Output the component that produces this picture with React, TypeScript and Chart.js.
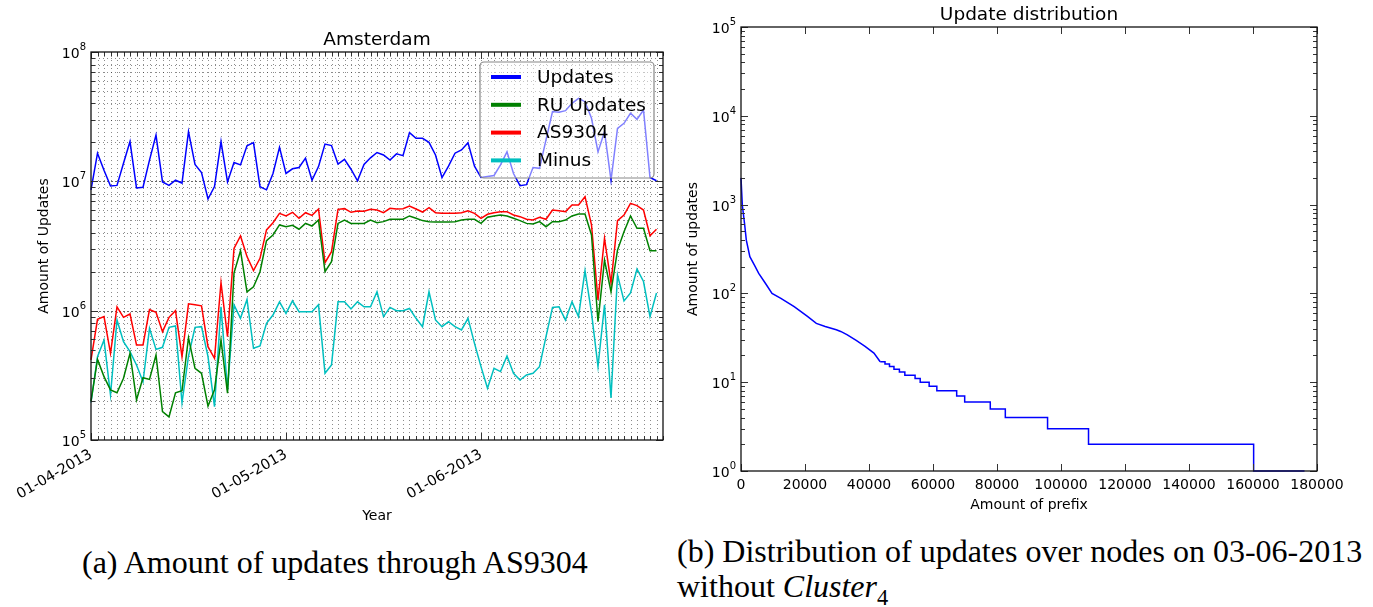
import React, { useEffect, useRef } from 'react';
import { Chart, registerables } from 'chart.js';

Chart.register(...registerables);

// ---------- Left chart: Amsterdam (daily values, day index 0..87) ----------
const dayCount = 88;
const dateTickIndex = [0, 30, 60];
const dateTickLabels = ['01-04-2013', '01-05-2013', '01-06-2013'];

const updates = [
  8.6e6, 1.65e7, 1.22e7, 9.2e6, 9.3e6, 1.38e7, 2.03e7, 8.9e6, 9.0e6, 1.46e7,
  2.28e7, 9.9e6, 9.3e6, 1.02e7, 9.7e6, 2.42e7, 1.35e7, 1.17e7, 7.3e6, 9.1e6,
  2.03e7, 9.9e6, 1.40e7, 1.34e7, 1.88e7, 1.99e7, 9.1e6, 8.6e6, 1.15e7, 1.83e7,
  1.15e7, 1.25e7, 1.28e7, 1.51e7, 1.02e7, 1.30e7, 1.94e7, 1.89e7, 1.36e7, 1.48e7,
  1.24e7, 1.01e7, 1.35e7, 1.52e7, 1.67e7, 1.60e7, 1.46e7, 1.63e7, 1.58e7, 2.38e7,
  2.15e7, 2.15e7, 2.00e7, 1.60e7, 1.07e7, 1.31e7, 1.65e7, 1.75e7, 1.99e7, 1.31e7,
  1.07e7, 1.09e7, 1.11e7, 1.34e7, 1.69e7, 1.15e7, 9.26e6, 9.42e6, 1.28e7, 1.26e7,
  2.09e7, 3.46e7, 3.42e7, 3.52e7, 4.01e7, 4.38e7, 4.13e7, 3.07e7, 1.69e7, 2.42e7,
  1.02e7, 2.57e7, 2.81e7, 3.36e7, 3.02e7, 3.56e7, 1.07e7, 1.01e7,
];
const ruUpdates = [
  2.0e5, 4.2e5, 3.09e5, 2.44e5, 2.32e5, 3.0e5, 4.68e5, 2.04e5, 3.03e5, 2.94e5,
  4.54e5, 1.66e5, 1.51e5, 2.32e5, 2.41e5, 6.18e5, 3.58e5, 3.28e5, 1.83e5, 2.44e5,
  5.93e5, 2.30e5, 1.95e6, 2.91e6, 1.40e6, 1.53e6, 2.0e6, 3.48e6, 3.85e6, 4.6e6,
  4.46e6, 4.57e6, 4.26e6, 4.73e6, 4.51e6, 5.02e6, 2.0e6, 2.39e6, 4.73e6, 5.02e6,
  4.73e6, 4.73e6, 4.73e6, 5.02e6, 4.79e6, 4.88e6, 5.09e6, 5.09e6, 5.09e6, 5.40e6,
  5.18e6, 4.97e6, 4.88e6, 4.85e6, 4.85e6, 4.85e6, 4.88e6, 5.02e6, 5.09e6, 5.09e6,
  4.73e6, 5.27e6, 5.40e6, 5.49e6, 5.40e6, 5.18e6, 4.97e6, 4.73e6, 4.68e6, 4.88e6,
  4.46e6, 4.88e6, 4.88e6, 5.02e6, 5.40e6, 5.59e6, 5.59e6, 3.85e6, 8.22e5, 2.46e6,
  1.40e6, 2.94e6, 4.08e6, 5.40e6, 4.33e6, 4.33e6, 2.91e6, 2.91e6,
];
const as9304 = [
  4.16e5, 8.57e5, 9.0e5, 4.68e5, 1.07e6, 8.88e5, 9.43e5, 5.43e5, 5.43e5, 1.02e6,
  9.71e5, 6.88e5, 8.88e5, 1.0e6, 4.41e5, 1.13e6, 1.11e6, 1.09e6, 5.27e5, 4.28e5,
  1.65e6, 6.29e5, 3.03e6, 3.78e6, 2.62e6, 2.04e6, 2.54e6, 4.21e6, 4.79e6, 5.66e6,
  5.40e6, 5.76e6, 5.18e6, 5.72e6, 5.46e6, 6.11e6, 2.35e6, 2.86e6, 6.07e6, 6.15e6,
  5.76e6, 5.90e6, 5.87e6, 6.07e6, 6.0e6, 5.72e6, 6.18e6, 6.11e6, 6.15e6, 6.45e6,
  6.11e6, 5.79e6, 6.25e6, 5.72e6, 5.66e6, 5.66e6, 5.66e6, 5.72e6, 5.93e6, 5.66e6,
  5.18e6, 5.56e6, 5.72e6, 5.83e6, 5.83e6, 5.49e6, 5.33e6, 5.09e6, 5.02e6, 5.27e6,
  5.09e6, 6.0e6, 5.93e6, 5.83e6, 6.56e6, 6.56e6, 7.61e6, 4.60e6, 1.21e6, 3.63e6,
  1.63e6, 4.97e6, 5.49e6, 6.76e6, 6.49e6, 6.0e6, 3.80e6, 4.26e6,
];
const minus = [
  1.95e5, 4.41e5, 5.93e5, 2.23e5, 8.47e5, 5.76e5, 4.82e5, 3.80e5, 2.82e5, 7.3e5,
  5.02e5, 5.21e5, 7.43e5, 7.61e5, 1.94e5, 4.46e5, 7.43e5, 7.52e5, 4.41e5, 1.81e5,
  1.07e6, 2.44e5, 1.11e6, 8.73e5, 1.22e6, 5.12e5, 5.33e5, 7.98e5, 9.26e5, 1.17e6,
  9.54e5, 1.19e6, 9.82e5, 9.82e5, 9.82e5, 1.11e6, 3.28e5, 3.80e5, 1.17e6, 1.17e6,
  1.03e6, 1.17e6, 1.07e6, 1.07e6, 1.40e6, 9.0e5, 1.06e6, 1.0e6, 1.0e6, 1.04e6,
  8.73e5, 7.52e5, 1.40e6, 8.47e5, 7.52e5, 8.22e5, 7.52e5, 7.1e5, 8.73e5, 5.59e5,
  3.69e5, 2.51e5, 3.58e5, 3.38e5, 4.46e5, 3.28e5, 2.91e5, 3.18e5, 3.28e5, 3.69e5,
  6.3e5, 1.06e6, 1.07e6, 8.47e5, 1.17e6, 9.0e5, 2.04e6, 9.6e5, 3.69e5, 1.11e6,
  2.11e5, 1.89e6, 1.19e6, 1.37e6, 2.10e6, 1.68e6, 9.0e5, 1.37e6,
];

// ---------- Right chart: update distribution ----------
const headPrefix = [0, 415, 1108, 1662, 2769, 4154, 5538, 7615, 9692, 12462, 16615, 20769, 23538, 26308, 29769, 31154, 33231, 36000, 38769, 41538, 43500];
const headUpdates = [2000, 984, 612, 398, 259, 209, 168, 130, 100, 88, 71, 55, 46, 42.4, 38.9, 37.3, 34.2, 29.5, 25.3, 21.3, 17];
const tailPrefix = [43500, 45000, 46400, 47800, 49500, 51200, 54400, 56000, 58800, 61200, 67400, 69900, 77900, 82600, 95800, 108600, 160200, 176100];
const tailUpdates = [17, 16, 15, 14, 13, 12, 11, 10, 9, 8, 7, 6, 5, 4, 3, 2, 1, 1];

const FONT = "'DejaVu Sans', sans-serif";

function isPow10(v: number) {
  const l = Math.log10(v);
  return Math.abs(l - Math.round(l)) < 1e-9;
}
function logTickValues(minExp: number, maxExp: number) {
  const out: { value: number }[] = [];
  for (let e = minExp; e < maxExp; e++) for (let m = 1; m <= 9; m++) out.push({ value: m * Math.pow(10, e) });
  out.push({ value: Math.pow(10, maxExp) });
  return out;
}

// inward ticks, frame and "10^n" labels for the log y axis
function framePlugin(xMajor: (v: number) => boolean) {
  return {
    id: 'frame',
    afterDatasetsDraw(chart: any) {
      const { ctx, chartArea: a, scales } = chart;
      const x = scales.x, y = scales.y;
      ctx.save();
      ctx.setLineDash([]);
      ctx.strokeStyle = '#333';
      ctx.lineWidth = 1;
      ctx.beginPath();
      for (const t of x.ticks) {
        const px = Math.round(x.getPixelForValue(t.value)) + 0.5;
        const len = xMajor(t.value) ? 7 : 4;
        ctx.moveTo(px, a.bottom); ctx.lineTo(px, a.bottom - len);
        ctx.moveTo(px, a.top); ctx.lineTo(px, a.top + len);
      }
      for (const t of y.ticks) {
        const py = Math.round(y.getPixelForValue(t.value)) + 0.5;
        const len = isPow10(t.value) ? 7 : 4;
        ctx.moveTo(a.left, py); ctx.lineTo(a.left + len, py);
        ctx.moveTo(a.right, py); ctx.lineTo(a.right - len, py);
      }
      ctx.stroke();
      ctx.strokeStyle = '#111';
      ctx.lineWidth = 1.3;
      ctx.strokeRect(a.left, a.top, a.right - a.left, a.bottom - a.top);

      // y tick labels: "10" with a raised exponent
      ctx.fillStyle = '#000';
      ctx.textBaseline = 'alphabetic';
      for (const t of y.ticks) {
        if (!isPow10(t.value)) continue;
        const py = y.getPixelForValue(t.value);
        const exp = String(Math.round(Math.log10(t.value)));
        ctx.font = `10px ${FONT}`;
        const ew = ctx.measureText(exp).width;
        const ex = a.left - 5 - ew;
        ctx.textAlign = 'left';
        ctx.fillText(exp, ex, py - 2);
        ctx.font = `14px ${FONT}`;
        ctx.textAlign = 'right';
        ctx.fillText('10', ex, py + 6);
      }
      ctx.restore();
    },
  };
}

const dotGridPlugin = {
  id: 'dotgrid',
  beforeDatasetsDraw(chart: any) {
    const { ctx, chartArea: a, scales } = chart;
    const x = scales.x, y = scales.y;
    ctx.save();
    ctx.lineWidth = 1;
    ctx.strokeStyle = 'rgba(0,0,0,0.45)';
    ctx.setLineDash([1, 3]);
    ctx.beginPath();
    for (const t of x.ticks) {
      const px = Math.round(x.getPixelForValue(t.value)) + 0.5;
      if (px <= a.left + 1 || px >= a.right - 1) continue;
      ctx.moveTo(px, a.top); ctx.lineTo(px, a.bottom);
    }
    for (const t of y.ticks) {
      if (isPow10(t.value)) continue;
      const py = Math.round(y.getPixelForValue(t.value)) + 0.5;
      ctx.moveTo(a.left, py); ctx.lineTo(a.right, py);
    }
    ctx.stroke();
    ctx.strokeStyle = 'rgba(0,0,0,0.6)';
    ctx.setLineDash([2, 2]);
    ctx.beginPath();
    for (const t of y.ticks) {
      if (!isPow10(t.value)) continue;
      const py = Math.round(y.getPixelForValue(t.value)) + 0.5;
      if (py <= a.top + 1 || py >= a.bottom - 1) continue;
      ctx.moveTo(a.left, py); ctx.lineTo(a.right, py);
    }
    ctx.stroke();
    ctx.restore();
  },
};

const boxLegendPlugin = {
  id: 'boxlegend',
  afterDatasetsDraw(chart: any) {
    const { ctx, chartArea: a } = chart;
    const w = 174, h = 116;
    const bx = a.right - 9 - w, by = a.top + 10;
    ctx.save();
    ctx.beginPath();
    const r = 4;
    ctx.moveTo(bx + r, by);
    ctx.arcTo(bx + w, by, bx + w, by + h, r);
    ctx.arcTo(bx + w, by + h, bx, by + h, r);
    ctx.arcTo(bx, by + h, bx, by, r);
    ctx.arcTo(bx, by, bx + w, by, r);
    ctx.closePath();
    ctx.fillStyle = 'rgba(255,255,255,0.5)';
    ctx.fill();
    ctx.strokeStyle = '#888';
    ctx.lineWidth = 1.2;
    ctx.stroke();
    ctx.font = `18.5px ${FONT}`;
    ctx.textBaseline = 'middle';
    ctx.textAlign = 'left';
    ctx.fillStyle = '#000';
    chart.data.datasets.forEach((ds: any, i: number) => {
      const ry = by + 15 + i * 27.8;
      ctx.strokeStyle = ds.borderColor;
      ctx.lineWidth = 4;
      ctx.beginPath();
      ctx.moveTo(bx + 11, ry); ctx.lineTo(bx + 41, ry);
      ctx.stroke();
      ctx.fillText(ds.label, bx + 57, ry + 1);
    });
    ctx.restore();
  },
};

function leftConfig(): any {
  const series = [
    { label: 'Updates', values: updates, color: '#0000ff' },
    { label: 'RU Updates', values: ruUpdates, color: '#008000' },
    { label: 'AS9304', values: as9304, color: '#ff0000' },
    { label: 'Minus', values: minus, color: '#00bfbf' },
  ];
  return {
    type: 'line',
    data: {
      datasets: series.map((s) => ({
        label: s.label,
        data: s.values.map((v, i) => ({ x: i, y: v })),
        borderColor: s.color,
        backgroundColor: s.color,
        borderWidth: 1.5,
        pointRadius: 0,
        tension: 0,
        fill: false,
        clip: 3,
      })),
    },
    options: {
      responsive: false,
      animation: false,
      events: [],
      layout: { padding: { left: 0, right: 17, top: 0, bottom: 0 } },
      plugins: {
        legend: { display: false },
        tooltip: { enabled: false },
        title: {
          display: true, text: 'Amsterdam', color: '#000', fullSize: false,
          font: { family: FONT, size: 18.5, weight: 'normal' },
          padding: { top: 29.5, bottom: 0.3 },
        },
      },
      scales: {
        x: {
          type: 'linear', min: 0, max: dayCount,
          afterBuildTicks: (s: any) => { s.ticks = Array.from({ length: dayCount + 1 }, (_, i) => ({ value: i })); },
          afterFit: (s: any) => { s.height = 90; },
          grid: { display: false, drawTicks: false },
          border: { display: false },
          ticks: {
            autoSkip: false, minRotation: 30, maxRotation: 30, padding: 6, color: '#000',
            font: { family: FONT, size: 14.5 },
            callback: (v: number) => { const k = dateTickIndex.indexOf(v); return k >= 0 ? dateTickLabels[k] : ''; },
          },
          title: { display: true, text: 'Year', color: '#000', font: { family: FONT, size: 14 }, padding: { top: 0, bottom: 5.6 } },
        },
        y: {
          type: 'logarithmic', min: 1e5, max: 1e8,
          afterBuildTicks: (s: any) => { s.ticks = logTickValues(5, 8); },
          afterFit: (s: any) => { s.width = 91; },
          grid: { display: false, drawTicks: false },
          border: { display: false },
          ticks: { display: false, autoSkip: false },
          title: { display: true, text: 'Amount of Updates', color: '#000', font: { family: FONT, size: 14 }, padding: { top: 35.6, bottom: 0 } },
        },
      },
    },
    plugins: [dotGridPlugin, boxLegendPlugin, framePlugin((v) => dateTickIndex.indexOf(v) >= 0)],
  };
}

function rightConfig(): any {
  return {
    type: 'line',
    data: {
      datasets: [
        {
          label: 'head',
          data: headPrefix.map((x, i) => ({ x, y: headUpdates[i] })),
          borderColor: '#0000ff', borderWidth: 1.5, pointRadius: 0, tension: 0, fill: false, clip: 3,
        },
        {
          label: 'tail',
          data: tailPrefix.map((x, i) => ({ x, y: tailUpdates[i] })),
          borderColor: '#0000ff', borderWidth: 1.5, pointRadius: 0, tension: 0, fill: false, clip: 3,
          stepped: 'before',
        },
      ],
    },
    options: {
      responsive: false,
      animation: false,
      events: [],
      layout: { padding: { left: 0, right: 56, top: 0, bottom: 0 } },
      plugins: {
        legend: { display: false },
        tooltip: { enabled: false },
        title: {
          display: true, text: 'Update distribution', color: '#000', fullSize: false,
          font: { family: FONT, size: 18.5, weight: 'normal' },
          padding: { top: 3.8, bottom: 1.0 },
        },
      },
      scales: {
        x: {
          type: 'linear', min: 0, max: 180000,
          ticks: { stepSize: 20000, autoSkip: false, maxRotation: 0, padding: 6, color: '#000', font: { family: FONT, size: 14 }, callback: (v: number) => String(v) },
          afterFit: (s: any) => { s.height = 59; },
          grid: { display: false, drawTicks: false },
          border: { display: false },
          title: { display: true, text: 'Amount of prefix', color: '#000', font: { family: FONT, size: 14 }, padding: { top: 0, bottom: 16.6 } },
        },
        y: {
          type: 'logarithmic', min: 1, max: 1e5,
          afterBuildTicks: (s: any) => { s.ticks = logTickValues(0, 5); },
          afterFit: (s: any) => { s.width = 61; },
          grid: { display: false, drawTicks: false },
          border: { display: false },
          ticks: { display: false, autoSkip: false },
          title: { display: true, text: 'Amount of updates', color: '#000', font: { family: FONT, size: 14 }, padding: { top: 4.6, bottom: 0 } },
        },
      },
    },
    plugins: [framePlugin(() => true)],
  };
}

const captionStyle: React.CSSProperties = {
  position: 'absolute',
  fontFamily: "'Liberation Serif', serif",
  fontSize: 32,
  lineHeight: '35px',
  color: '#000',
  whiteSpace: 'nowrap',
};

export default function App() {
  const leftRef = useRef<HTMLCanvasElement>(null);
  const rightRef = useRef<HTMLCanvasElement>(null);
  useEffect(() => {
    const c1 = new Chart(leftRef.current as HTMLCanvasElement, leftConfig());
    const c2 = new Chart(rightRef.current as HTMLCanvasElement, rightConfig());
    return () => { c1.destroy(); c2.destroy(); };
  }, []);
  return (
    <div style={{ position: 'absolute', left: 0, top: 0, width: 1373, height: 607, background: '#fff', overflow: 'hidden' }}>
      <canvas ref={leftRef} width={680} height={530} style={{ position: 'absolute', left: 0, top: 0, width: 680, height: 530 }} />
      <canvas ref={rightRef} width={693} height={530} style={{ position: 'absolute', left: 680, top: 0, width: 693, height: 530 }} />
      <div style={{ ...captionStyle, left: 82, top: 545 }}>(a) Amount of updates through AS9304</div>
      <div style={{ ...captionStyle, left: 677, top: 534 }}>
        (b) Distribution of updates over nodes on 03-06-2013
        <br />
        without <i>Cluster</i><span style={{ fontSize: '0.7em', position: 'relative', top: '0.35em' }}>4</span>
      </div>
    </div>
  );
}
